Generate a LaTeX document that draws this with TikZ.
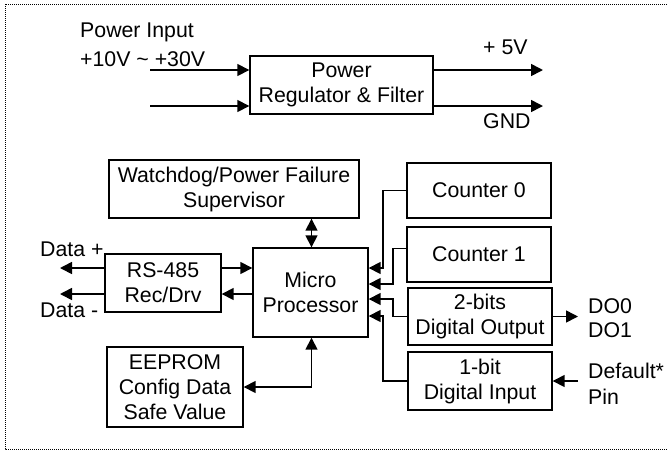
\documentclass[tikz,border=0pt]{standalone}
\usepackage{fontspec}
\setmainfont{Liberation Sans}
\usetikzlibrary{arrows.meta}
\begin{document}
\begin{tikzpicture}[x=1pt,y=-1pt,
  txt/.style={font=\fontsize{21.3}{25}\selectfont},
  box/.style={draw,line width=1.4pt,rectangle,inner sep=0pt,align=center,txt},
  lbl/.style={inner sep=0pt,txt},
  conn/.style={line width=1.6pt},
  arr/.style={conn,-{Triangle[length=12pt,width=12pt]}},
  darr/.style={conn,{Triangle[length=12pt,width=12pt]}-{Triangle[length=12pt,width=12pt]}},
  border/.style={line width=1pt,dash pattern=on 1pt off 1pt}
]
\useasboundingbox (0,0) rectangle (667,451);
\draw[border] (667,4) -- (5,4) -- (5,449) -- (667,449);

% boxes
\node[box,minimum width=183pt,minimum height=58pt] (pwr) at (341.5,85) {Power\\Regulator \& Filter};
\node[box,minimum width=250pt,minimum height=58pt] (wd) at (234,189) {Watchdog/Power Failure\\Supervisor};
\node[box,minimum width=115pt,minimum height=89pt] (mp) at (310.5,292.5) {Micro\\Processor};
\node[box,minimum width=116pt,minimum height=58pt] (rs) at (163,283) {RS-485\\Rec/Drv};
\node[box,minimum width=136pt,minimum height=80pt] (ee) at (175,387) {EEPROM\\Config Data\\Safe Value};
\node[box,minimum width=144pt,minimum height=55pt] (c0) at (479,190.5) {Counter 0};
\node[box,minimum width=144pt,minimum height=55pt] (c1) at (479,254.5) {Counter 1};
\node[box,minimum width=144pt,minimum height=57pt] (do) at (480,316.5) {2-bits\\Digital Output};
\node[box,minimum width=144pt,minimum height=58pt] (di) at (480,381) {1-bit\\Digital Input};

% labels
\node[lbl,anchor=base west] (lpi) at (80,37) {Power Input};
\node[lbl,anchor=base west] (lv) at (80,66) {+10V \textasciitilde\ +30V};
\node[lbl,anchor=base west] (l5) at (483,54) {+ 5V};
\node[lbl,anchor=base west] (lg) at (483,128) {GND};
\node[lbl,anchor=base west] (ldp) at (40,256) {Data +};
\node[lbl,anchor=base west] (ldm) at (40,317) {Data -};
\node[lbl,anchor=base west] (ld0) at (588,313) {DO0};
\node[lbl,anchor=base west] (ld1) at (588,337) {DO1};
\node[lbl,anchor=base west] (ldf) at (588,378) {Default*};
\node[lbl,anchor=base west] (lpin) at (588,404) {Pin};

% coordinates
\coordinate (pi1) at (150,70);
\coordinate (pi2) at (150,106);
\coordinate (po1) at (543,70);
\coordinate (po2) at (543,106);
\coordinate (d1) at (60,268);
\coordinate (d2) at (60,294);
\coordinate (xm) at (311.5,0);
\coordinate (dout) at (578,316.5);
\coordinate (din) at (578,381);

% power
\draw[arr] (pi1) -- (pi1 -| pwr.west);
\draw[arr] (pi2) -- (pi2 -| pwr.west);
\draw[arr] (pwr.east |- po1) -- (po1);
\draw[arr] (pwr.east |- po2) -- (po2);

% watchdog / eeprom
\draw[darr] (wd.south -| xm) -- (mp.north -| xm);
\draw[darr] (ee.east) -| (mp.south -| xm);

% rs-485
\draw[arr] (rs.west |- d1) -- (d1);
\draw[arr] (rs.west |- d2) -- (d2);
\draw[arr] (rs.east |- d1) -- (mp.west |- d1);
\draw[arr] (mp.west |- d2) -- (rs.east |- d2);

% right side
\draw[arr] (c0.west) -| (383,268) -- (mp.east |- 0,268);
\draw[arr] ([yshift=6pt]c1.west) -| (393,284) -- (mp.east |- 0,284);
\draw[arr] (do.west) -| (393,299) -- (mp.east |- 0,299);
\draw[arr] (di.west) -| (383,316) -- (mp.east |- 0,316);
\draw[arr] (do.east) -- (dout);
\draw[arr] (din) -- (di.east);
\end{tikzpicture}
\end{document}
